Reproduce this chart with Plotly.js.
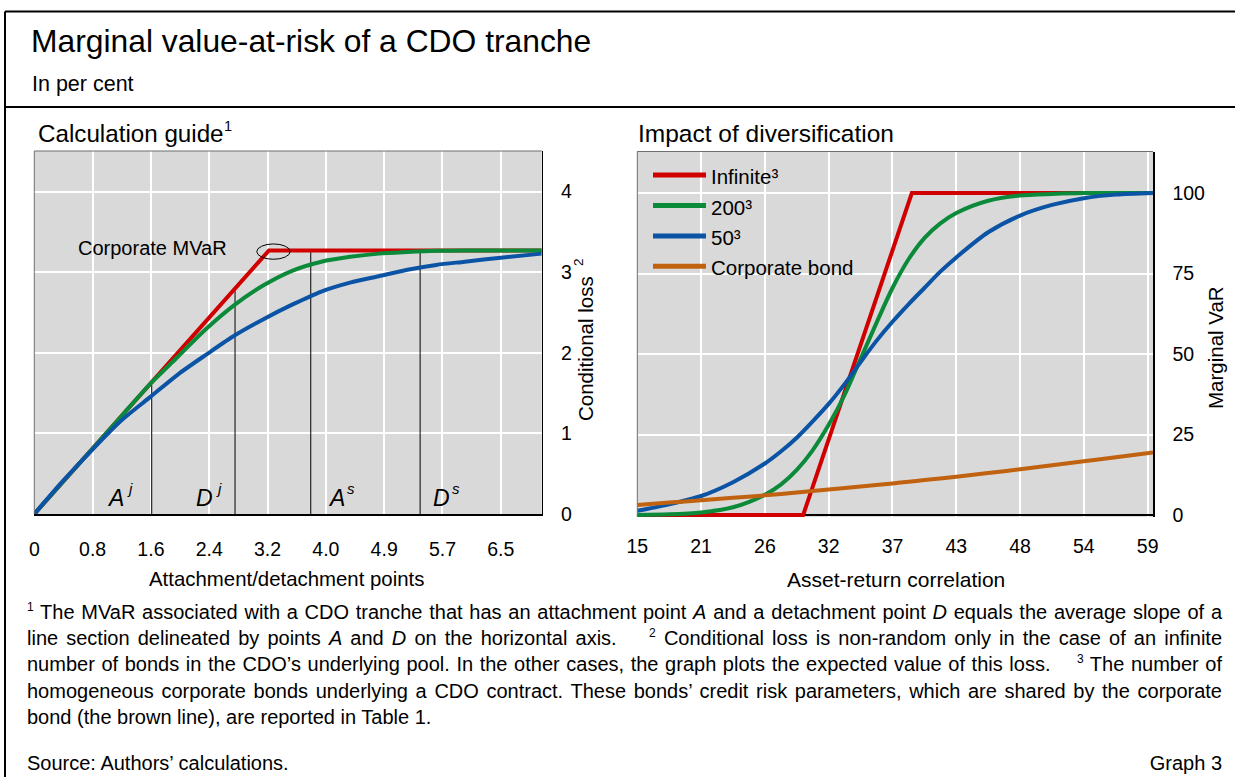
<!DOCTYPE html>
<html><head><meta charset="utf-8">
<script src="https://cdn.plot.ly/plotly-3.0.1.min.js"></script>
<style>
html,body{margin:0;padding:0;background:#fff;}
#wrap{position:relative;width:1235px;height:777px;overflow:hidden;}
#chart{position:absolute;left:0;top:0;width:1235px;height:777px;}
.notes{position:absolute;left:27px;width:1195px;font-family:'Liberation Sans',Arial,sans-serif;font-size:20px;line-height:26.2px;color:#000;}
.jl{text-align:justify;text-align-last:justify;}
.notes sup{font-size:12px;vertical-align:8px;line-height:12px;}
</style></head><body>
<div id="wrap"><div id="chart"></div>
<div class="notes" style="top:599px">
<div class="jl"><sup>1</sup> The MVaR associated with a CDO tranche that has an attachment point <i>A</i> and a detachment point <i>D</i> equals the average slope of a</div>
<div class="jl">line section delineated by points <i>A</i> and <i>D</i> on the horizontal axis. &nbsp;&nbsp; <sup>2</sup> Conditional loss is non-random only in the case of an infinite</div>
<div class="jl">number of bonds in the CDO’s underlying pool. In the other cases, the graph plots the expected value of this loss. &nbsp;&nbsp; <sup>3</sup> The number of</div>
<div class="jl">homogeneous corporate bonds underlying a CDO contract. These bonds’ credit risk parameters, which are shared by the corporate</div>
<div>bond (the brown line), are reported in Table 1.</div>
</div>
<div class="notes" style="top:750px">Source: Authors’ calculations.</div>
<div class="notes" style="top:750px;text-align:right">Graph 3</div>
</div>
<script>
// ---------- Left panel: calculation guide ----------
const trancheX = [0, 0.4, 0.8, 1.2, 1.6, 2.0, 2.4, 2.8, 3.2, 3.6, 4.0, 4.4, 4.8, 5.2, 5.6, 6.0, 6.5, 7.07];
const infiniteX = [0, 3.27, 7.07];
const infiniteLoss = [0, 3.27, 3.27];
const loss200 = [0, 0.4, 0.8, 1.2, 1.6, 1.95, 2.3, 2.6, 2.84, 3.02, 3.13, 3.19, 3.23, 3.25, 3.265, 3.27, 3.27, 3.27];
const loss50 = [0, 0.41, 0.79, 1.15, 1.44, 1.73, 1.98, 2.22, 2.42, 2.6, 2.76, 2.87, 2.95, 3.03, 3.09, 3.13, 3.18, 3.23];
const trancheTicks = [0, 0.8125, 1.625, 2.4375, 3.25, 4.0625, 4.875, 5.6875, 6.5];
const trancheTickText = ['0', '0.8', '1.6', '2.4', '3.2', '4.0', '4.9', '5.7', '6.5'];
const lossTicks = [0, 1, 2, 3, 4];
const guideX = [1.636, 2.797, 3.852, 5.376];
const guideTop = [1.6, 2.78, 3.25, 3.25];
const guideLetter = ['A', 'D', 'A', 'D'];
const guideSup = ['j', 'j', 's', 's'];
const guideLabelX = [1.19, 2.43, 4.27, 5.73];
const guideLabelY = 0.2;

// ---------- Right panel: impact of diversification ----------
const corrX = [15, 17.75, 20.5, 23.25, 26, 27.4, 28.75, 30.1, 31.5, 32.9, 34.25, 35.6, 37, 38.4, 39.75, 41.1, 42.5, 45.25, 48, 50.75, 53.5, 56.25, 59.46];
const infiniteCorrX = [15, 29.3, 38.67, 59.46];
const infiniteMVaR = [0, 0, 100, 100];
const mvar200 = [0, 0.2, 0.8, 2.4, 6.3, 9.5, 14, 20, 28, 37.5, 48.5, 59.5, 70.5, 79.5, 86, 90.5, 93.8, 97.6, 99.2, 99.7, 100, 100, 100];
const mvar50 = [1.3, 3.3, 5.9, 10.2, 16, 19.8, 24, 29, 34.5, 40.8, 47.5, 54, 60, 65.5, 70.5, 75.5, 80, 87.8, 93, 96.3, 98.4, 99.5, 100];
const bondMVaR = [3.1, 3.85, 4.6, 5.33, 6.1, 6.55, 7.0, 7.45, 7.9, 8.37, 8.85, 9.32, 9.8, 10.33, 10.85, 11.37, 11.9, 13.03, 14.2, 15.43, 16.7, 17.95, 19.4];
const corrTicks = [15, 20.5, 26, 31.5, 37, 42.5, 48, 53.5, 59];
const corrTickText = ['15', '21', '26', '32', '37', '43', '48', '54', '59'];
const mvarTicks = [0, 25, 50, 75, 100];

const seriesNames = ['Infinite³', '200³', '50³', 'Corporate bond'];
const seriesColors = ['#d00000', '#0b8a3a', '#0a53a5', '#c0620f'];

const FONT = 'Liberation Sans, Arial, sans-serif';
const W = 1235, H = 777;
const px = v => v / W, py = v => 1 - v / H;

// guide verticals built from arrays
const vx = [], vy = [];
guideX.forEach((x, i) => { vx.push(x, x, null); vy.push(0, guideTop[i], null); });

const LW = 4;
const sp = {shape: 'spline', smoothing: 0.8};
const traces = [
  {x: vx, y: vy, xaxis: 'x', yaxis: 'y', mode: 'lines', line: {color: '#000', width: 1}, hoverinfo: 'skip'},
  {x: infiniteX, y: infiniteLoss, xaxis: 'x', yaxis: 'y', mode: 'lines', name: seriesNames[0], line: {color: seriesColors[0], width: LW}},
  {x: trancheX, y: loss200, xaxis: 'x', yaxis: 'y', mode: 'lines', name: seriesNames[1], line: Object.assign({color: seriesColors[1], width: LW}, sp)},
  {x: trancheX, y: loss50, xaxis: 'x', yaxis: 'y', mode: 'lines', name: seriesNames[2], line: Object.assign({color: seriesColors[2], width: LW}, sp)},
  {x: infiniteCorrX, y: infiniteMVaR, xaxis: 'x2', yaxis: 'y2', mode: 'lines', name: seriesNames[0], line: {color: seriesColors[0], width: LW}},
  {x: corrX, y: mvar200, xaxis: 'x2', yaxis: 'y2', mode: 'lines', name: seriesNames[1], line: Object.assign({color: seriesColors[1], width: LW}, sp)},
  {x: corrX, y: mvar50, xaxis: 'x2', yaxis: 'y2', mode: 'lines', name: seriesNames[2], line: Object.assign({color: seriesColors[2], width: LW}, sp)},
  {x: corrX, y: bondMVaR, xaxis: 'x2', yaxis: 'y2', mode: 'lines', name: seriesNames[3], line: Object.assign({color: seriesColors[3], width: LW}, sp)}
];

const gridCommon = {showgrid: true, gridcolor: '#ffffff', gridwidth: 2, ticks: '', fixedrange: true, tickfont: {family: FONT, size: 19.5, color: '#000'}};

const shapes = [
  // outer frame
  {type: 'line', xref: 'paper', yref: 'paper', x0: px(5), x1: 1.01, y0: py(11.5), y1: py(11.5), line: {color: '#000', width: 2}},
  {type: 'line', xref: 'paper', yref: 'paper', x0: px(5), x1: px(5), y0: py(11.5), y1: -0.01, line: {color: '#000', width: 2}},
  {type: 'line', xref: 'paper', yref: 'paper', x0: px(5), x1: 1.01, y0: py(107), y1: py(107), line: {color: '#000', width: 2}},
  // plot area top/left edges
  {type: 'line', xref: 'x domain', yref: 'y domain', x0: 0, x1: 1, y0: 1, y1: 1, line: {color: '#6e6e6e', width: 1}},
  {type: 'line', xref: 'x domain', yref: 'y domain', x0: 0, x1: 0, y0: 0, y1: 1, line: {color: '#6e6e6e', width: 1}},
  {type: 'line', xref: 'x2 domain', yref: 'y2 domain', x0: 0, x1: 1, y0: 1, y1: 1, line: {color: '#6e6e6e', width: 1}},
  {type: 'line', xref: 'x2 domain', yref: 'y2 domain', x0: 0, x1: 0, y0: 0, y1: 1, line: {color: '#6e6e6e', width: 1}},
  // corporate MVaR ellipse
  {type: 'circle', xref: 'x', yref: 'y', x0: 3.10, x1: 3.565, y0: 3.16, y1: 3.35, line: {color: '#000', width: 1}}
];

function txt(o) {
  return Object.assign({xref: 'paper', yref: 'paper', showarrow: false, xanchor: 'center', yanchor: 'middle'}, o,
    {font: {family: FONT, size: o.size, color: '#000', style: o.italic ? 'italic' : 'normal'}});
}

const annotations = [
  txt({text: 'Marginal value-at-risk of a CDO tranche', x: px(29), y: py(41), size: 31.8, xanchor: 'left'}),
  txt({text: 'In per cent', x: px(30), y: py(84), size: 21.5, xanchor: 'left'}),
  txt({text: 'Calculation guide', x: px(36), y: py(134), size: 24.2, xanchor: 'left'}),
  txt({text: '1', x: px(222), y: py(126), size: 14.5, xanchor: 'left'}),
  txt({text: 'Impact of diversification', x: px(636), y: py(134), size: 24.5, xanchor: 'left'}),
  txt({text: 'Attachment/detachment points', x: px(286), y: py(579), size: 20.4}),
  txt({text: 'Asset-return correlation', x: px(896), y: py(579), size: 21}),
  txt({text: 'Conditional loss', x: px(585), y: py(349), size: 20.5, textangle: -90}),
  txt({text: '2', x: px(579), y: py(262), size: 13.5, textangle: -90}),
  txt({text: 'Marginal VaR', x: px(1215), y: py(348), size: 20.5, textangle: -90}),
  txt({text: 'Corporate MVaR', xref: 'x', yref: 'y', x: 1.64, y: 3.30, size: 20})
];
guideLabelX.forEach((x, i) => {
  annotations.push(txt({text: guideLetter[i], xref: 'x', yref: 'y', x: x, y: guideLabelY, xshift: -4, size: 23, italic: true}));
  annotations.push(txt({text: guideSup[i], xref: 'x', yref: 'y', x: x, y: guideLabelY, xshift: 10, yshift: 9, size: 15, italic: true}));
});

// manual legend inside right panel
const legendRows = [175, 205.5, 236, 266.3];
seriesNames.forEach((n, i) => {
  shapes.push({type: 'line', xref: 'paper', yref: 'paper', x0: px(653), x1: px(706), y0: py(legendRows[i]), y1: py(legendRows[i]), line: {color: seriesColors[i], width: 5}});
  annotations.push(txt({text: n, x: px(709), y: py(legendRows[i] + 1.5), size: 20.5, xanchor: 'left'}));
});

const layout = {
  width: W, height: H, margin: {l: 0, r: 0, t: 0, b: 0},
  paper_bgcolor: '#ffffff', plot_bgcolor: '#d9d9d9', showlegend: false,
  font: {family: FONT, size: 19.5, color: '#000'},
  xaxis: Object.assign({}, gridCommon, {domain: [px(34.3), px(541.7)], anchor: 'y', range: [0, 7.07], tickmode: 'array', tickvals: trancheTicks, ticktext: trancheTickText, zeroline: false, showline: true, linecolor: '#000', linewidth: 1.5, ticklabelstandoff: 17}),
  yaxis: Object.assign({}, gridCommon, {domain: [py(514), py(151)], anchor: 'x', range: [0, 4.503], side: 'right', tickmode: 'array', tickvals: lossTicks, zeroline: false, showline: true, linecolor: '#000', linewidth: 1.5, ticklabelstandoff: 14}),
  xaxis2: Object.assign({}, gridCommon, {domain: [px(637.3), px(1153)], anchor: 'y2', range: [15, 59.46], tickmode: 'array', tickvals: corrTicks, ticktext: corrTickText, zeroline: false, showline: false, ticklabelstandoff: 15}),
  yaxis2: Object.assign({}, gridCommon, {domain: [py(517), py(151.5)], anchor: 'x2', range: [-0.62, 112.89], side: 'right', tickmode: 'array', tickvals: mvarTicks, zeroline: true, zerolinecolor: '#000', zerolinewidth: 1.5, showline: true, linecolor: '#000', linewidth: 1.5, ticklabelstandoff: 14}),
  shapes: shapes,
  annotations: annotations
};

Plotly.newPlot('chart', traces, layout, {displayModeBar: false, staticPlot: true});
</script>
</body></html>
